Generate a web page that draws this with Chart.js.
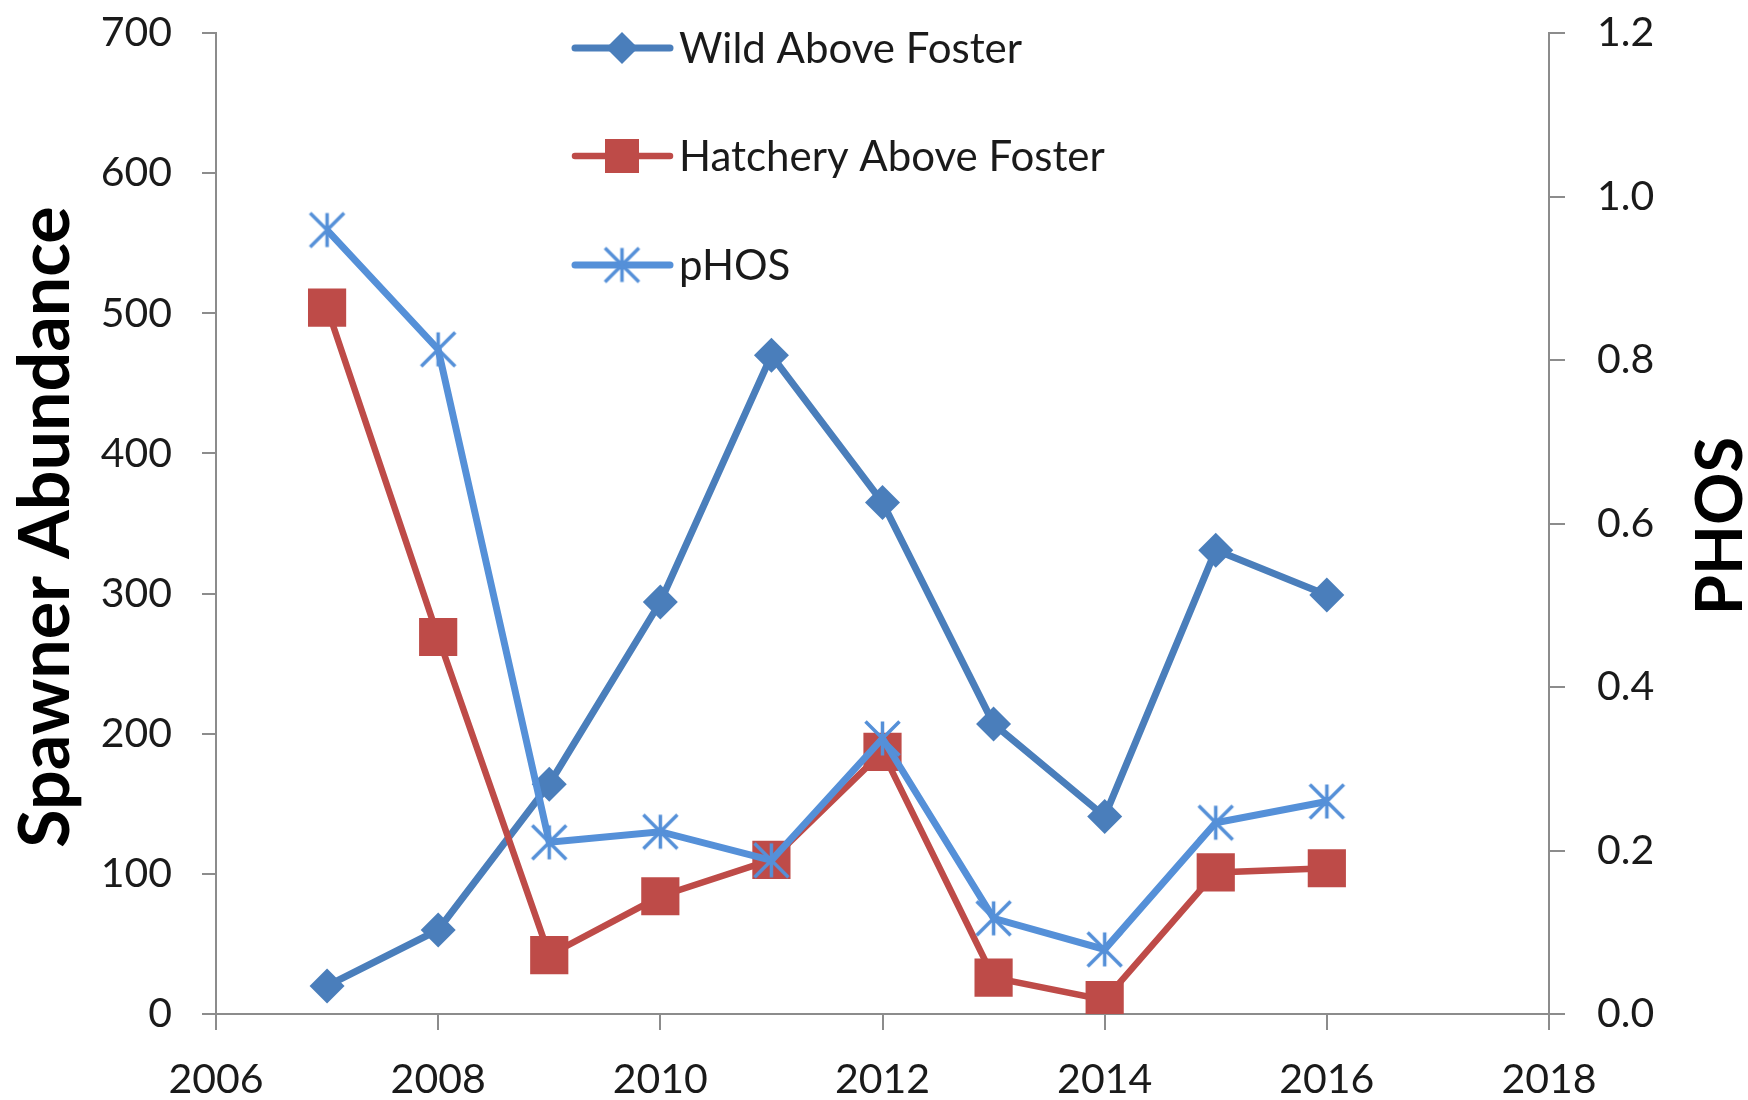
<!DOCTYPE html>
<html>
<head>
<meta charset="utf-8">
<script src="https://cdn.jsdelivr.net/npm/chart.js@4.4.1/dist/chart.umd.min.js"></script>
<style>
  html, body { margin: 0; padding: 0; background: #fff; }
</style>
</head>
<body>
<canvas id="chart" width="1748" height="1100"></canvas>
<script>
// values
const years = [2007, 2008, 2009, 2010, 2011, 2012, 2013, 2014, 2015, 2016];
const wildAboveFoster = [20, 60, 164, 294, 470, 365, 207, 141, 331, 299];
const hatcheryAboveFoster = [504, 269, 42, 84, 110, 187, 26, 10, 101, 104];
const pHOS = [0.959, 0.813, 0.210, 0.223, 0.188, 0.337, 0.117, 0.079, 0.234, 0.260];

const seriesNames = ["Wild Above Foster", "Hatchery Above Foster", "pHOS"];
const leftTitle = "Spawner Abundance";
const rightTitle = "PHOS";

const wildColor = "#4A7EBB";
const hatchColor = "#BE4B48";
const phosColor = "#5590D8";
const axisColor = "#8C8C8C";
const textColor = "#1a1a1a";
const tickFont = { family: "Lato", size: 41 };

function toPoints(values) {
  return years.map((y, i) => ({ x: y, y: values[i] }));
}

// Excel-like asterisk marker: an X plus a vertical bar
function makeStar(color, half, lw) {
  const c = document.createElement("canvas");
  const s = Math.ceil(half * 2 + lw * 2);
  c.width = s;
  c.height = s;
  const g = c.getContext("2d");
  const m = s / 2;
  g.strokeStyle = color;
  g.lineWidth = lw;
  g.beginPath();
  g.moveTo(m - half, m - half);
  g.lineTo(m + half, m + half);
  g.moveTo(m + half, m - half);
  g.lineTo(m - half, m + half);
  g.moveTo(m, m - half);
  g.lineTo(m, m + half);
  g.stroke();
  return c;
}

const starImg = makeStar(phosColor, 17, 3.5);

// legend inside the plot + both axis titles (read bottom to top)
const extras = {
  id: "extras",
  afterDraw(chart) {
    const ctx = chart.ctx;
    ctx.save();

    const rows = [
      { y: 48, color: wildColor, lw: 7, marker: "diamond" },
      { y: 156, color: hatchColor, lw: 6.5, marker: "square" },
      { y: 265, color: phosColor, lw: 7, marker: "star" },
    ];
    rows.forEach((r, i) => {
      ctx.strokeStyle = r.color;
      ctx.lineWidth = r.lw;
      ctx.lineCap = "round";
      ctx.beginPath();
      ctx.moveTo(575, r.y);
      ctx.lineTo(670, r.y);
      ctx.stroke();
      const cx = 622;
      ctx.fillStyle = r.color;
      if (r.marker === "diamond") {
        ctx.beginPath();
        ctx.moveTo(cx, r.y - 16);
        ctx.lineTo(cx + 16, r.y);
        ctx.lineTo(cx, r.y + 16);
        ctx.lineTo(cx - 16, r.y);
        ctx.closePath();
        ctx.fill();
      } else if (r.marker === "square") {
        ctx.fillRect(cx - 17, r.y - 17, 34, 34);
      } else {
        ctx.drawImage(starImg, cx - starImg.width / 2, r.y - starImg.height / 2);
      }
      ctx.fillStyle = textColor;
      ctx.font = "42px Lato";
      ctx.textAlign = "left";
      ctx.textBaseline = "middle";
      ctx.fillText(seriesNames[i], 679, r.y + 1);
    });

    ctx.fillStyle = "#000";
    ctx.font = "bold 70px Lato";
    ctx.textAlign = "center";
    ctx.textBaseline = "alphabetic";
    ctx.translate(69, 527);
    ctx.rotate(-Math.PI / 2);
    ctx.fillText(leftTitle, 0, 0);
    ctx.restore();

    ctx.save();
    ctx.fillStyle = "#000";
    ctx.font = "bold 65px Lato";
    ctx.textAlign = "center";
    ctx.textBaseline = "alphabetic";
    ctx.translate(1742, 526);
    ctx.rotate(-Math.PI / 2);
    ctx.fillText(rightTitle, 0, 0);
    ctx.restore();
  },
};

const axisGrid = (len) => ({
  drawOnChartArea: false,
  drawTicks: true,
  tickLength: len,
  color: axisColor,
  lineWidth: 2,
});

new Chart("chart", {
  type: "line",
  data: {
    datasets: [
      {
        label: seriesNames[0],
        data: toPoints(wildAboveFoster),
        yAxisID: "y",
        borderColor: wildColor,
        backgroundColor: wildColor,
        borderWidth: 7,
        pointStyle: "rectRot",
        pointRadius: 17.5,
        pointBorderWidth: 0,
        order: 2,
      },
      {
        label: seriesNames[1],
        data: toPoints(hatcheryAboveFoster),
        yAxisID: "y",
        borderColor: hatchColor,
        backgroundColor: hatchColor,
        borderWidth: 6.5,
        pointStyle: "rect",
        pointRadius: 27,
        pointBorderWidth: 0,
        order: 1,
      },
      {
        label: seriesNames[2],
        data: toPoints(pHOS),
        yAxisID: "y1",
        borderColor: phosColor,
        backgroundColor: phosColor,
        borderWidth: 7,
        pointStyle: starImg,
        pointRadius: 17,
        order: 0,
      },
    ],
  },
  options: {
    responsive: false,
    animation: false,
    events: [],
    layout: { padding: { top: 33, left: 0, right: 0, bottom: 0 } },
    plugins: {
      legend: { display: false },
      tooltip: { enabled: false },
    },
    scales: {
      x: {
        type: "linear",
        min: 2006,
        max: 2018,
        ticks: {
          stepSize: 2,
          callback: (v) => String(v),
          font: tickFont,
          color: textColor,
          padding: 25,
          maxRotation: 0,
        },
        grid: axisGrid(16),
        border: { color: axisColor, width: 2 },
        afterFit: (s) => { s.height = 86; },
      },
      y: {
        position: "left",
        min: 0,
        max: 700,
        ticks: { stepSize: 100, font: tickFont, color: textColor, padding: 30 },
        grid: axisGrid(14),
        border: { color: axisColor, width: 2 },
        afterFit: (s) => { s.width = 216; s.paddingTop = 20; s.paddingBottom = 20; },
      },
      y1: {
        position: "right",
        min: 0,
        max: 1.2,
        ticks: {
          stepSize: 0.2,
          callback: (v) => v.toFixed(1),
          font: tickFont,
          color: textColor,
          padding: 32,
        },
        grid: axisGrid(16),
        border: { color: axisColor, width: 2 },
        afterFit: (s) => { s.width = 199; s.paddingTop = 20; s.paddingBottom = 20; },
      },
    },
  },
  plugins: [extras],
});
</script>
</body>
</html>
